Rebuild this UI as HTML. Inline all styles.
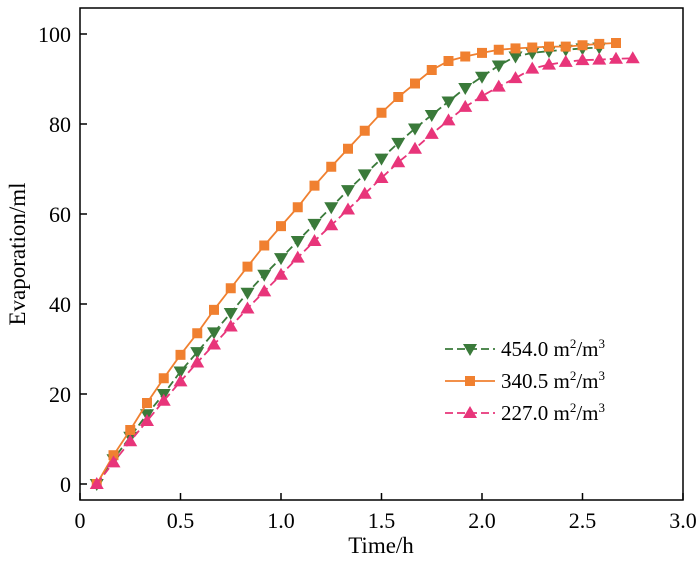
<!DOCTYPE html>
<html><head><meta charset="utf-8"><style>
body{margin:0;background:#fff;}
text{font-family:"Liberation Serif",serif;fill:#000;}
</style></head><body>
<svg id="chart" width="700" height="557" xmlns="http://www.w3.org/2000/svg">
<g id="plot"></g>
</svg>
<script>
const xTicks=[0,0.5,1.0,1.5,2.0,2.5,3.0];
const xTickLabels=["0","0.5","1.0","1.5","2.0","2.5","3.0"];
const yTicks=[0,20,40,60,80,100];
const yTickLabels=["0","20","40","60","80","100"];
const seriesNames=["454.0","340.5","227.0"];
const s454=[0,5.5,10.5,15.5,20,25,29.3,33.7,38,42.5,46.5,50.2,54,57.8,61.5,65.3,68.8,72.3,75.8,79,82,85,88,90.5,93,95,95.8,96.2,96.5,96.8,97];
const s340=[0,6.4,12,18,23.5,28.7,33.5,38.7,43.5,48.3,53,57.3,61.5,66.3,70.5,74.5,78.5,82.5,86,89,92,94,95,95.8,96.5,96.8,97,97.2,97.2,97.5,97.8,98];
const s227=[0,4.8,9.5,14,18.5,22.8,27,31,35,39,42.8,46.5,50.3,54,57.5,61,64.5,68,71.5,74.5,77.8,80.8,83.8,86.2,88.3,90.2,92.3,93.2,93.8,94.2,94.3,94.5,94.6];
const L=80,R=683,T=8,B=500;
const X=v=>L+v*(R-L)/3;
const Y=v=>484-v*4.5;
const NS="http://www.w3.org/2000/svg";
const g=document.getElementById('plot');
function mk(t,a,p){const e=document.createElementNS(NS,t);for(const k in a)e.setAttribute(k,a[k]);(p||g).appendChild(e);return e;}
const frame=mk('rect',{x:L,y:T,width:R-L,height:B-T,fill:'none',stroke:'#000','stroke-width':1.5});


xTicks.forEach((v,i)=>{
 const t=mk('line',{x1:X(v),x2:X(v),y1:B,y2:B-7,stroke:'#000','stroke-width':1.5});
 
 
 const l=mk('text',{x:X(v),y:528,'text-anchor':'middle','font-size':22});l.textContent=xTickLabels[i];
 
 
});
yTicks.forEach((v,i)=>{
 const t=mk('line',{x1:L,x2:L+7,y1:Y(v),y2:Y(v),stroke:'#000','stroke-width':1.5});
 
 
 const l=mk('text',{x:71,y:Y(v)+8,'text-anchor':'end','font-size':22});l.textContent=yTickLabels[i];
 
 
});
const xt=mk('text',{x:381,y:553,'text-anchor':'middle','font-size':23});xt.textContent='Time/h';


const yt=mk('text',{x:0,y:0,'text-anchor':'middle','font-size':23,transform:'translate(25,254) rotate(-90)'});yt.textContent='Evaporation/ml';


function marker(type,cx,cy,col){
 let e;
 if(type==='sq')e=mk('rect',{x:cx-5,y:cy-5,width:10,height:10,fill:col});
 else if(type==='down')e=mk('polygon',{points:`${cx-7},${cy-5} ${cx+7},${cy-5} ${cx},${cy+7}`,fill:col});
 else e=mk('polygon',{points:`${cx-7},${cy+5} ${cx+7},${cy+5} ${cx},${cy-7}`,fill:col});
 return e;
}
const series=[
 {d:s454,col:'#3a7a3a',m:'down',dash:'8,4',name:'series-454'},
 {d:s340,col:'#f08030',m:'sq',dash:'none',name:'series-340'},
 {d:s227,col:'#e8357a',m:'up',dash:'8,4',name:'series-227'}];
series.forEach(s=>{
 const pts=s.d.map((v,i)=>X((i+1)/12)+','+Y(v)).join(' ');
 const pl=mk('polyline',{points:pts,fill:'none',stroke:s.col,'stroke-width':1.8,'stroke-dasharray':s.dash});
 
 
 s.d.forEach((v,i)=>{
  const m=marker(s.m,X((i+1)/12),Y(v),s.col);
  
  
 });
});
series.forEach((s,i)=>{
 const y=349+i*32;
 const ln=mk('line',{x1:445,x2:495,y1:y,y2:y,stroke:s.col,'stroke-width':1.8,'stroke-dasharray':s.dash});
 
 
 const m=marker(s.m,470,y,s.col);
 
 
 const tx=mk('text',{x:501,y:y+7,'font-size':21});
 
 
 mk('tspan',{},tx).textContent=seriesNames[i]+' m';
 mk('tspan',{dy:-8,'font-size':13},tx).textContent='2';
 mk('tspan',{dy:8},tx).textContent='/m';
 mk('tspan',{dy:-8,'font-size':13},tx).textContent='3';
});
</script>
</body></html>
